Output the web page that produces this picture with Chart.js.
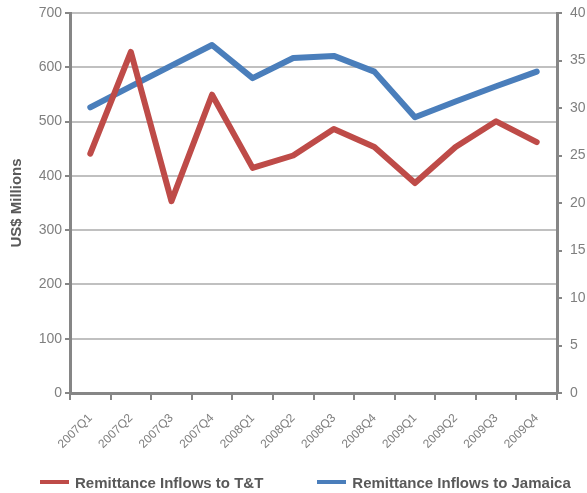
<!DOCTYPE html>
<html>
<head>
<meta charset="utf-8">
<script src="https://cdn.jsdelivr.net/npm/chart.js@4.4.1/dist/chart.umd.min.js"></script>
<style>
  html, body { margin: 0; padding: 0; background: #fff; }
  #wrap { position: relative; width: 587px; height: 493px; }
  #legend {
    position: absolute; left: 40px; top: 473px;
    display: flex; gap: 54px;
    font: bold 15px 'Liberation Sans', Arial, sans-serif;
    color: #595959;
  }
  #legend .item { display: flex; align-items: center; height: 18px; }
  #legend .swatch { width: 29px; height: 4px; margin-right: 6px; }
</style>
</head>
<body>
<div id="wrap">
  <canvas id="remit"></canvas>
  <div id="legend"></div>
</div>
<script>
const quarters = ['2007Q1', '2007Q2', '2007Q3', '2007Q4', '2008Q1', '2008Q2',
                  '2008Q3', '2008Q4', '2009Q1', '2009Q2', '2009Q3', '2009Q4'];
// T&T on the right axis, Jamaica on the left (US$ millions)
const ttInflows = [25.2, 35.9, 20.2, 31.4, 23.7, 25.0, 27.8, 25.9, 22.1, 25.9, 28.6, 26.4];
const jamaicaInflows = [526, 565, 603, 641, 580, 617, 621, 592, 508, 537, 565, 592];
const leftTicks = [0, 100, 200, 300, 400, 500, 600, 700];
const rightTicks = [0, 5, 10, 15, 20, 25, 30, 35, 40];

const axisGrey = '#868686';
const fontFamily = 'Liberation Sans, Arial, sans-serif';
const tickFont = { family: fontFamily, size: 14 };

// fixed axis boxes, no extra room for overhanging labels
function fixBox(w, h) {
    return s => {
        if (w !== null) s.width = w;
        if (h !== null) s.height = h;
        s.paddingTop = s.paddingBottom = s.paddingLeft = s.paddingRight = 0;
    };
}

const chart = new Chart(document.getElementById('remit').getContext('2d'), {
    type: 'line',
    data: {
        labels: quarters,
        datasets: [{
            label: 'Remittance Inflows to T&T',
            data: ttInflows,
            yAxisID: 'yRight',
            borderColor: '#BE4B48',
            borderWidth: 6,
            borderJoinStyle: 'round',
            borderCapStyle: 'round',
            pointRadius: 0,
            tension: 0
        }, {
            label: 'Remittance Inflows to Jamaica',
            data: jamaicaInflows,
            yAxisID: 'yLeft',
            borderColor: '#4A7EBB',
            borderWidth: 6,
            borderJoinStyle: 'round',
            borderCapStyle: 'round',
            pointRadius: 0,
            tension: 0
        }]
    },
    options: {
        responsive: true,
        maintainAspectRatio: false,
        animation: false,
        layout: { padding: { left: 0, right: 0, top: 13, bottom: 38 } },
        plugins: {
            tooltip: { enabled: false },
            legend: { display: false }
        },
        scales: {
            x: {
                offset: true,
                afterFit: fixBox(null, 62),
                border: { color: axisGrey, width: 3 },
                grid: {
                    offset: true,
                    drawOnChartArea: false,
                    color: axisGrey,
                    lineWidth: 2,
                    tickLength: 7
                },
                ticks: {
                    autoSkip: false,
                    minRotation: 45,
                    maxRotation: 45,
                    padding: 11,
                    color: '#7F7F7F',
                    font: { family: fontFamily, size: 12 }
                }
            },
            yLeft: {
                position: 'left',
                min: 0,
                max: 700,
                afterFit: fixBox(70, null),
                afterBuildTicks: s => { s.ticks = leftTicks.map(v => ({ value: v })); },
                border: { color: axisGrey, width: 3 },
                grid: {
                    color: '#C0C0C0',
                    lineWidth: 2,
                    tickColor: axisGrey,
                    tickLength: 5
                },
                ticks: {
                    padding: 3,
                    color: '#7F7F7F',
                    font: tickFont
                },
                title: {
                    display: true,
                    text: 'US$ Millions',
                    color: '#595959',
                    padding: { top: 8, bottom: 0 },
                    font: { family: fontFamily, size: 15, weight: 'bold' }
                }
            },
            yRight: {
                position: 'right',
                min: 0,
                max: 40,
                afterFit: fixBox(30, null),
                afterBuildTicks: s => { s.ticks = rightTicks.map(v => ({ value: v })); },
                border: { color: axisGrey, width: 3 },
                grid: {
                    drawOnChartArea: false,
                    color: axisGrey,
                    lineWidth: 2,
                    tickLength: 5
                },
                ticks: {
                    padding: 8,
                    color: '#7F7F7F',
                    font: tickFont
                }
            }
        }
    }
});

// legend built from the datasets, placed under the axis labels
const legendEl = document.getElementById('legend');
chart.data.datasets.forEach(ds => {
    const item = document.createElement('div');
    item.className = 'item';
    const swatch = document.createElement('span');
    swatch.className = 'swatch';
    swatch.style.background = ds.borderColor;
    const text = document.createElement('span');
    text.textContent = ds.label;
    item.appendChild(swatch);
    item.appendChild(text);
    legendEl.appendChild(item);
});
</script>
</body>
</html>
